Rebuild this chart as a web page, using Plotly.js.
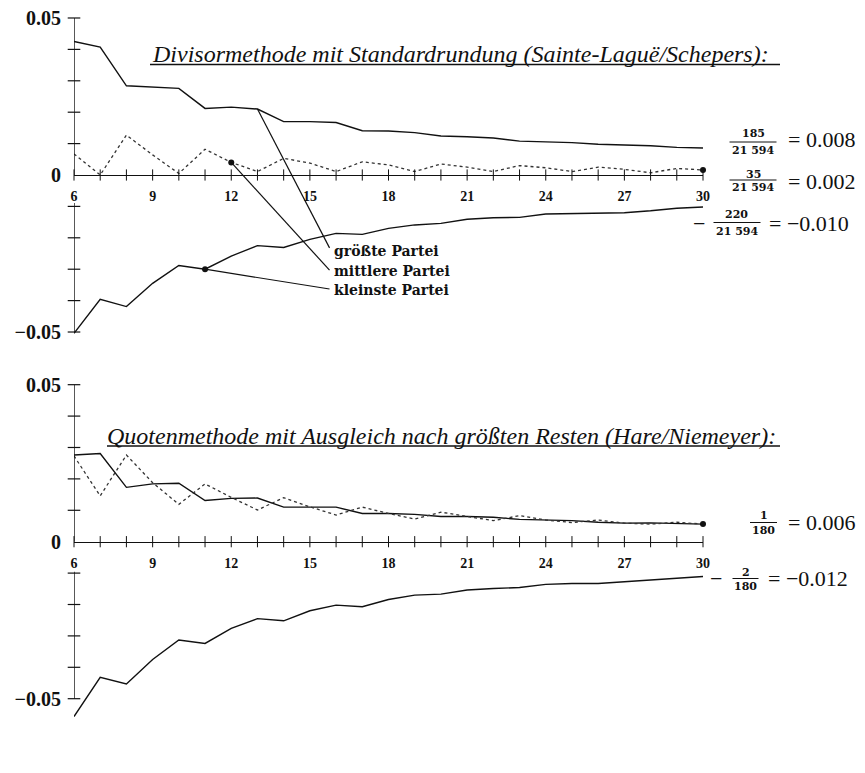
<!DOCTYPE html>
<html><head><meta charset="utf-8">
<script src="https://cdn.plot.ly/plotly-3.0.1.min.js"></script>
<style>html,body{margin:0;padding:0;background:#fff}</style>
</head><body>
<div id="chart" style="width:865px;height:773px"></div>
<script>
// Number of seats (x)
const seats = [6,7,8,9,10,11,12,13,14,15,16,17,18,19,20,21,22,23,24,25,26,27,28,29,30];

// Divisormethode mit Standardrundung (Sainte-Laguë/Schepers)
const grossSL  = [0.0425,0.0407,0.0284,0.0281,0.0276,0.0212,0.0216,0.0210,0.0170,0.0170,0.0167,0.0141,0.0140,0.0135,0.0124,0.0122,0.0118,0.0108,0.0106,0.0103,0.0098,0.0096,0.0093,0.0088,0.0086];
const mittelSL = [0.0067,0.0000,0.0127,0.0064,0.0005,0.0082,0.0040,0.0011,0.0053,0.0038,0.0011,0.0042,0.0032,0.0011,0.0035,0.0025,0.0011,0.0030,0.0023,0.0011,0.0025,0.0018,0.0007,0.0021,0.0016];
const kleinSL  = [-0.0504,-0.0396,-0.0419,-0.0345,-0.0288,-0.0300,-0.0258,-0.0225,-0.0231,-0.0205,-0.0186,-0.0189,-0.0170,-0.0159,-0.0154,-0.0141,-0.0136,-0.0135,-0.0124,-0.0122,-0.0122,-0.0120,-0.0114,-0.0106,-0.0102];

// Quotenmethode mit Ausgleich nach größten Resten (Hare/Niemeyer)
const grossHN  = [0.0276,0.0281,0.0173,0.0184,0.0186,0.0131,0.0138,0.0139,0.0110,0.0110,0.0110,0.0090,0.0090,0.0087,0.0080,0.0080,0.0078,0.0071,0.0069,0.0067,0.0062,0.0059,0.0060,0.0059,0.0056];
const mittelHN = [0.0273,0.0146,0.0276,0.0188,0.0119,0.0184,0.0141,0.0101,0.0140,0.0111,0.0085,0.0110,0.0090,0.0072,0.0094,0.0080,0.0067,0.0083,0.0069,0.0061,0.0069,0.0059,0.0056,0.0062,0.0056];
const kleinHN  = [-0.0557,-0.0432,-0.0453,-0.0375,-0.0313,-0.0324,-0.0276,-0.0245,-0.0252,-0.0220,-0.0202,-0.0207,-0.0184,-0.0170,-0.0167,-0.0154,-0.0149,-0.0146,-0.0136,-0.0133,-0.0133,-0.0127,-0.0122,-0.0117,-0.0111];

// Axis ticks and labels
const xTickMarks = [6,7,8,9,10,11,12,13,14,15,16,17,18,19,20,21,22,23,24,25,26,27,28,29,30];
const xTickLabels = [6,9,12,15,18,21,24,27,30];
const yTickMarks = [-0.05,-0.04,-0.03,-0.02,-0.01,0.01,0.02,0.03,0.04,0.05];
const yTickVals = [-0.05,0,0.05];
const yTickText = ['\u22120.05','0','0.05'];

const titleSL = 'Divisormethode mit Standardrundung (Sainte-Laguë/Schepers):';
const titleHN = 'Quotenmethode mit Ausgleich nach größten Resten (Hare/Niemeyer):';
const partyLabels = ['größte Partei','mittlere Partei','kleinste Partei'];

const W=865, H=773, L=74, R=162, PW=W-L-R;
const px = x => (x-L)/PW;
const py = y => 1 - y/H;

const SERIF = 'Liberation Serif';
const BOLD2 = 'DejaVu Serif';
const solid = {color:'#111', width:1.4};
const dotted = {color:'#333', width:1.3, dash:'dot'};

function lines(xa, ya, g, m, k){
  return [
    {x:seats, y:g, xaxis:xa, yaxis:ya, mode:'lines', line:solid, hoverinfo:'skip'},
    {x:seats, y:m, xaxis:xa, yaxis:ya, mode:'lines', line:dotted, hoverinfo:'skip'},
    {x:seats, y:k, xaxis:xa, yaxis:ya, mode:'lines', line:solid, hoverinfo:'skip'},
    {x:xTickMarks, y:xTickMarks.map(()=>0), xaxis:xa, yaxis:ya, mode:'markers', cliponaxis:false,
      marker:{symbol:'line-ns', size:8, line:{color:'#111', width:1}}, hoverinfo:'skip'},
    {x:yTickMarks.map(()=>seats[0]), y:yTickMarks, xaxis:xa, yaxis:ya, mode:'markers', cliponaxis:false,
      marker:{symbol:'line-ew', size:9, line:{color:'#111', width:1.2}}, hoverinfo:'skip'}
  ];
}

const last = seats.length-1;
const data = [
  ...lines('x','y', grossSL, mittelSL, kleinSL),
  ...lines('x2','y2', grossHN, mittelHN, kleinHN),
  {x:[seats[6], seats[5], seats[last]], y:[mittelSL[6], kleinSL[5], mittelSL[last]], xaxis:'x', yaxis:'y',
   mode:'markers', cliponaxis:false, marker:{color:'#111', size:6}, hoverinfo:'skip'},
  {x:[seats[last]], y:[mittelHN[last]], xaxis:'x2', yaxis:'y2',
   mode:'markers', cliponaxis:false, marker:{color:'#111', size:6}, hoverinfo:'skip'}
];

function xax(pos){
  return {range:[6,30], domain:[0,1], anchor:'free', position:pos, showline:true, linecolor:'#111', linewidth:1.4,
    showgrid:false, zeroline:false, tickvals:xTickLabels, ticks:'outside', ticklen:8, tickcolor:'rgba(0,0,0,0)',
    tickfont:{family:SERIF, size:14, color:'#111', weight:'bold'}, fixedrange:true};
}
function yax(dom, rng, xa){
  return {range:rng, domain:dom, anchor:xa, showline:false, showgrid:false, zeroline:false,
    tickvals:yTickVals, ticktext:yTickText, ticks:'outside', ticklen:8, tickcolor:'rgba(0,0,0,0)',
    tickfont:{family:SERIF, size:20, color:'#111', weight:'bold'}, fixedrange:true};
}

const shapes = [
  // y axis lines (broken under the "6" label)
  {type:'line', xref:'x', yref:'y', x0:6, x1:6, y0:0, y1:0.05, line:{color:'#111', width:1.4}},
  {type:'line', xref:'x', yref:'y', x0:6, x1:6, y0:-0.0089, y1:-0.05, line:{color:'#111', width:1.4}},
  {type:'line', xref:'x2', yref:'y2', x0:6, x1:6, y0:0, y1:0.05, line:{color:'#111', width:1.4}},
  {type:'line', xref:'x2', yref:'y2', x0:6, x1:6, y0:-0.0096, y1:-0.05, line:{color:'#111', width:1.4}},
  // leader lines
  {type:'line', xref:'x', yref:'y', x0:seats[7], y0:grossSL[7], x1:15.75, y1:-0.0232, line:{color:'#111', width:1.2}},
  {type:'line', xref:'x', yref:'y', x0:seats[6], y0:mittelSL[6], x1:15.75, y1:-0.0303, line:{color:'#111', width:1.2}},
  {type:'line', xref:'x', yref:'y', x0:seats[5], y0:kleinSL[5], x1:15.75, y1:-0.0363, line:{color:'#111', width:1.2}},
  // title underlines
  {type:'line', xref:'paper', yref:'paper', x0:px(150), x1:px(780), y0:py(64.5), y1:py(64.5), line:{color:'#111', width:1.5}},
  {type:'line', xref:'paper', yref:'paper', x0:px(107), x1:px(780), y0:py(446), y1:py(446), line:{color:'#111', width:1.5}},
];

const annotations = [
  {xref:'paper', yref:'paper', x:px(150), y:py(54), xanchor:'left', yanchor:'middle', showarrow:false,
   text:'<i>'+titleSL+'</i>', font:{family:SERIF, size:24, color:'#111'}},
  {xref:'paper', yref:'paper', x:px(105), y:py(436), xanchor:'left', yanchor:'middle', showarrow:false,
   text:'<i>'+titleHN+'</i>', font:{family:SERIF, size:24, color:'#111'}},
  {xref:'x', yref:'y', x:15.85, y:-0.0241, xanchor:'left', yanchor:'middle', showarrow:false, text:partyLabels[0], font:{family:BOLD2, size:14, color:'#111', weight:'bold'}},
  {xref:'x', yref:'y', x:15.85, y:-0.0305, xanchor:'left', yanchor:'middle', showarrow:false, text:partyLabels[1], font:{family:BOLD2, size:14, color:'#111', weight:'bold'}},
  {xref:'x', yref:'y', x:15.85, y:-0.0366, xanchor:'left', yanchor:'middle', showarrow:false, text:partyLabels[2], font:{family:BOLD2, size:14, color:'#111', weight:'bold'}},
];

// fraction labels at the right
function frac(cx, yn, yb, yd, num, den, bw, eqx, eqy, eqText, minus){
  const f = {family:BOLD2, size:11, color:'#111', weight:'bold'};
  annotations.push({xref:'paper', yref:'paper', x:px(cx), y:py(yn), xanchor:'center', yanchor:'middle', showarrow:false, text:num, font:f});
  annotations.push({xref:'paper', yref:'paper', x:px(cx), y:py(yd), xanchor:'center', yanchor:'middle', showarrow:false, text:den, font:f});
  shapes.push({type:'line', xref:'paper', yref:'paper', x0:px(cx-bw/2), x1:px(cx+bw/2), y0:py(yb), y1:py(yb), line:{color:'#111', width:1}});
  annotations.push({xref:'paper', yref:'paper', x:px(eqx), y:py(eqy), xanchor:'left', yanchor:'middle', showarrow:false, text:eqText, font:{family:SERIF, size:22, color:'#111'}});
  if (minus) annotations.push({xref:'paper', yref:'paper', x:px(minus[0]), y:py(minus[1]), xanchor:'center', yanchor:'middle', showarrow:false, text:'\u2212', font:{family:SERIF, size:22, color:'#111'}});
}
frac(753, 133.5, 142, 150, '185', '21 594', 47, 786, 140, '= 0.008');
frac(753, 174, 180, 187, '35', '21 594', 47, 786, 181.5, '= 0.002');
frac(737, 215, 222.5, 231, '220', '21 594', 47, 767, 223, '= \u22120.010', [699, 223]);
frac(763.5, 515.5, 522.5, 530.5, '1', '180', 27, 786, 522, '= 0.006');
frac(745.5, 572, 578.5, 586.5, '2', '180', 26, 766, 578.5, '= \u22120.012', [716, 578]);

const layout = {
  width:W, height:H, margin:{l:L, r:R, t:0, b:0}, paper_bgcolor:'#fff', plot_bgcolor:'rgba(0,0,0,0)',
  showlegend:false, hovermode:false,
  xaxis: xax(py(175)),
  yaxis: yax([py(343), py(7)], [-0.0535, 0.0535], 'x'),
  xaxis2: xax(py(541.7)),
  yaxis2: yax([py(730.1), py(373.7)], [-0.06, 0.0535], 'x2'),
  shapes, annotations
};

Plotly.newPlot('chart', data, layout, {displayModeBar:false, staticPlot:true});
</script>
</body></html>
